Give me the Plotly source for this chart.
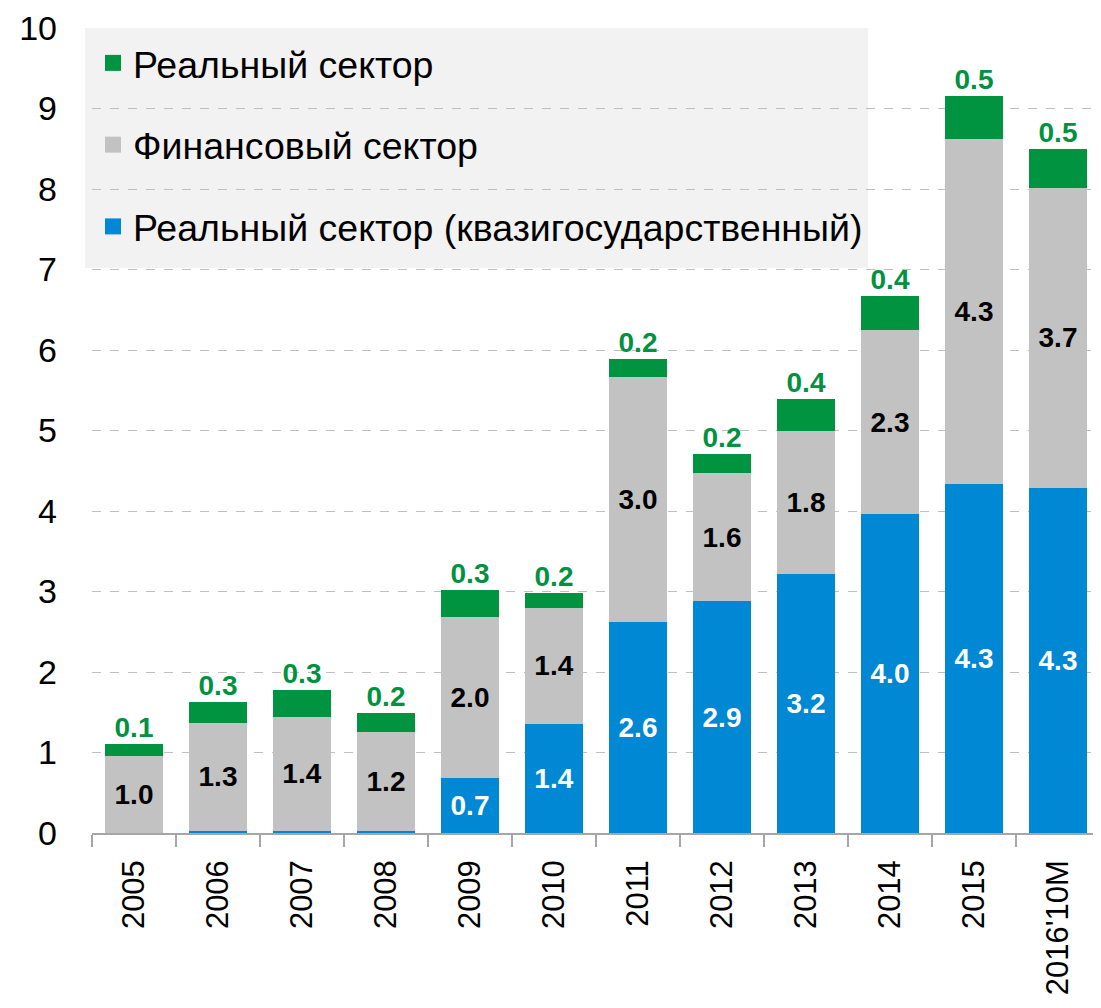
import plotly.graph_objects as go

categories = ["2005", "2006", "2007", "2008", "2009", "2010", "2011", "2012", "2013", "2014", "2015", "2016'10M"]
quasi_state = [0.0, 0.03, 0.03, 0.02, 0.68, 1.36, 2.62, 2.88, 3.22, 3.96, 4.34, 4.29]
financial = [0.96, 1.34, 1.41, 1.23, 2.0, 1.44, 3.04, 1.59, 1.78, 2.29, 4.28, 3.72]
real = [0.14, 0.26, 0.34, 0.24, 0.34, 0.18, 0.23, 0.24, 0.39, 0.42, 0.54, 0.49]
quasi_labels_shown = [False, False, False, False, True, True, True, True, True, True, True, True]

names = ["Реальный сектор (квазигосударственный)", "Финансовый сектор", "Реальный сектор"]
colors = ["#0088d4", "#c2c2c2", "#009440"]

FONT = "Liberation Sans, Arial, sans-serif"

totals = [a + b + c for a, b, c in zip(quasi_state, financial, real)]

fig = go.Figure()

fig.add_trace(go.Bar(
    x=categories, y=quasi_state, marker=dict(color=colors[0], line=dict(width=0)),
    text=[f"{v:.1f}" if s else "" for v, s in zip(quasi_state, quasi_labels_shown)],
    textposition="inside", insidetextanchor="middle", textangle=0,
    textfont=dict(family=FONT, size=28, color="white", weight="bold"),
    showlegend=False, hoverinfo="skip"))
fig.add_trace(go.Bar(
    x=categories, y=financial, marker=dict(color=colors[1], line=dict(width=0)),
    text=[f"{v:.1f}" for v in financial],
    textposition="inside", insidetextanchor="middle", textangle=0,
    textfont=dict(family=FONT, size=28, color="black", weight="bold"),
    showlegend=False, hoverinfo="skip"))
fig.add_trace(go.Bar(
    x=categories, y=real, marker=dict(color=colors[2], line=dict(width=0)),
    showlegend=False, hoverinfo="skip"))

fig.add_trace(go.Scatter(
    x=categories, y=totals, mode="text",
    text=[f"{v:.1f}" for v in real], textposition="top center",
    textfont=dict(family=FONT, size=28, color="#00923f", weight="bold"),
    showlegend=False, hoverinfo="skip", cliponaxis=False))

# legend entries (order: green, grey, blue)
for i, (nm, col) in enumerate(zip(reversed(names), reversed(colors))):
    fig.add_trace(go.Scatter(
        x=[None], y=[None], mode="markers", name=nm,
        marker=dict(symbol="square", size=20, color=col),
        legendgroup=f"g{i}", showlegend=True))

fig.add_shape(type="rect", xref="paper", yref="y", x0=-0.007, x1=0.770, y0=7.02, y1=10.06,
              fillcolor="#f2f2f2", line=dict(width=0), layer="below")

fig.update_layout(
    width=1093, height=1000,
    margin=dict(l=84, r=1, t=20, b=175, autoexpand=False),
    paper_bgcolor="white", plot_bgcolor="white",
    barmode="stack", bargap=0.32,
    font=dict(family=FONT, color="black"),
    legend=dict(x=0.001, y=0.995, xanchor="left", yanchor="top",
                bgcolor="rgba(0,0,0,0)", font=dict(family=FONT, size=37.5, color="black"),
                traceorder="grouped", tracegroupgap=30, itemwidth=30),
    xaxis=dict(type="category", range=[-0.5, len(categories) - 0.5],
               showline=True, linecolor="#a6a6a6", linewidth=1.5,
               ticks="outside", tickson="boundaries", ticklen=12, tickcolor="#a6a6a6", tickwidth=1.5,
               tickangle=-90, tickfont=dict(family=FONT, size=31, color="black"),
               ticklabelstandoff=13, showgrid=False, automargin=False),
    yaxis=dict(range=[0, 10], dtick=1, showgrid=True, gridcolor="#bfbfbf", gridwidth=1,
               griddash="dash", zeroline=False, showline=False, ticks="",
               tickfont=dict(family=FONT, size=34, color="black"), ticklabelstandoff=34,
               automargin=False),
)

fig.write_html("out.html")
